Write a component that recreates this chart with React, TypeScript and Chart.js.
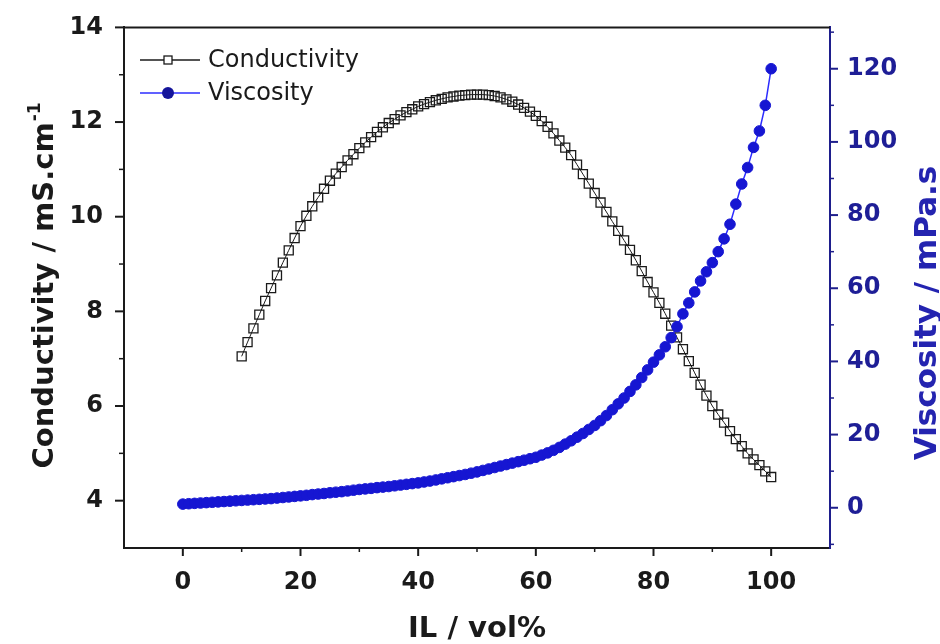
import React, { useEffect, useRef } from 'react';
import { Chart, registerables } from 'chart.js';

Chart.register(...registerables);

// IL content (vol%)
const ilVol = [
  0, 1, 2, 3, 4, 5, 6, 7, 8, 9,
  10, 11, 12, 13, 14, 15, 16, 17, 18, 19,
  20, 21, 22, 23, 24, 25, 26, 27, 28, 29,
  30, 31, 32, 33, 34, 35, 36, 37, 38, 39,
  40, 41, 42, 43, 44, 45, 46, 47, 48, 49,
  50, 51, 52, 53, 54, 55, 56, 57, 58, 59,
  60, 61, 62, 63, 64, 65, 66, 67, 68, 69,
  70, 71, 72, 73, 74, 75, 76, 77, 78, 79,
  80, 81, 82, 83, 84, 85, 86, 87, 88, 89,
  90, 91, 92, 93, 94, 95, 96, 97, 98, 99,
  100,
];

// Conductivity (mS/cm), measured from 10 vol%
const conductivity: (number | null)[] = [
  null, null, null, null, null, null, null, null, null, null,
  7.05, 7.35, 7.64, 7.93, 8.22, 8.49, 8.76, 9.03, 9.29, 9.55,
  9.8, 10.02, 10.22, 10.41, 10.59, 10.76, 10.91, 11.05, 11.19, 11.32,
  11.45, 11.57, 11.68, 11.79, 11.89, 11.98, 12.06, 12.14, 12.21, 12.27,
  12.33, 12.38, 12.42, 12.46, 12.49, 12.52, 12.54, 12.56, 12.57, 12.58,
  12.58, 12.58, 12.57, 12.55, 12.52, 12.48, 12.43, 12.37, 12.3, 12.22,
  12.13, 12.02, 11.9, 11.76, 11.61, 11.46, 11.3, 11.1, 10.9, 10.7,
  10.5, 10.3, 10.1, 9.9, 9.7, 9.5, 9.3, 9.08, 8.85, 8.62,
  8.4, 8.18, 7.95, 7.7, 7.45, 7.2, 6.95, 6.7, 6.45, 6.22,
  6.0, 5.82, 5.65, 5.47, 5.3, 5.15, 5.0, 4.87, 4.75, 4.62,
  4.5,
];

// Viscosity (mPa.s)
const viscosity = [
  1.0, 1.1, 1.2, 1.3, 1.4, 1.5, 1.6, 1.7, 1.8, 1.9,
  2.0, 2.1, 2.2, 2.3, 2.4, 2.5, 2.65, 2.8, 2.95, 3.1,
  3.25, 3.4, 3.6, 3.75, 3.9, 4.1, 4.25, 4.4, 4.6, 4.8,
  5.0, 5.15, 5.3, 5.5, 5.65, 5.8, 6.0, 6.2, 6.4, 6.6,
  6.8, 7.05, 7.3, 7.6, 7.9, 8.2, 8.5, 8.8, 9.1, 9.45,
  9.8, 10.2, 10.6, 11.0, 11.4, 11.8, 12.2, 12.6, 13.0, 13.4,
  13.8, 14.4, 15.0, 15.7, 16.5, 17.4, 18.3, 19.3, 20.3, 21.4,
  22.5, 23.8, 25.2, 26.8, 28.4, 30.0, 31.8, 33.6, 35.6, 37.7,
  39.8, 41.8, 44.0, 46.5, 49.5, 53.0, 56.0, 59.0, 62.0, 64.5,
  67.0, 70.0, 73.5, 77.5, 83.0, 88.5, 93.0, 98.5, 103.0, 110.0,
  120.0,
];

// Tick values
const xMajorTicks = [0, 20, 40, 60, 80, 100];
const xMinorTicks = [10, 30, 50, 70, 90];
const condMajorTicks = [4, 6, 8, 10, 12, 14];
const condMinorTicks = [5, 7, 9, 11, 13];
const viscMajorTicks = [0, 20, 40, 60, 80, 100, 120];
const viscMinorTicks = [-10, 10, 30, 50, 70, 90, 110, 130];

const BLACK = '#1a1a1a';
const NAVY = '#1e1e8c';
const BLUE_PT = '#1616d2';
const BLUE_LINE = '#2c2cff';
const FONT = 'DejaVu Sans';

const decorPlugin = {
  id: 'decor',
  afterDraw(chart: any) {
    const { ctx, chartArea: a, scales } = chart;
    ctx.save();
    // top frame line
    ctx.strokeStyle = BLACK;
    ctx.lineWidth = 2;
    ctx.beginPath();
    ctx.moveTo(a.left - 1, a.top);
    ctx.lineTo(a.right, a.top);
    ctx.stroke();

    // ticks
    const tickX = (vals: number[], len: number) => {
      vals.forEach((v) => {
        const p = scales.x.getPixelForValue(v);
        ctx.beginPath();
        ctx.moveTo(p, a.bottom);
        ctx.lineTo(p, a.bottom + len);
        ctx.stroke();
      });
    };
    const tickY = (scale: any, vals: number[], len: number, x0: number, dir: number) => {
      vals.forEach((v) => {
        const p = scale.getPixelForValue(v);
        ctx.beginPath();
        ctx.moveTo(x0, p);
        ctx.lineTo(x0 + dir * len, p);
        ctx.stroke();
      });
    };
    ctx.strokeStyle = BLACK;
    ctx.lineWidth = 2;
    tickX(xMajorTicks, 8);
    tickY(scales.y, condMajorTicks, 9, a.left, -1);
    ctx.lineWidth = 1.5;
    tickX(xMinorTicks, 4);
    tickY(scales.y, condMinorTicks, 5, a.left, -1);
    ctx.strokeStyle = NAVY;
    ctx.lineWidth = 2;
    tickY(scales.y2, viscMajorTicks, 8, a.right, 1);
    ctx.lineWidth = 1.5;
    tickY(scales.y2, viscMinorTicks, 4, a.right, 1);

    // legend
    const lx0 = 140, lx1 = 200, mx = 168;
    const r1 = 60, r2 = 93;
    ctx.strokeStyle = BLACK;
    ctx.lineWidth = 1.3;
    ctx.beginPath();
    ctx.moveTo(lx0, r1);
    ctx.lineTo(lx1, r1);
    ctx.stroke();
    ctx.fillStyle = '#ffffff';
    ctx.fillRect(mx - 4, r1 - 4, 8, 8);
    ctx.strokeRect(mx - 4, r1 - 4, 8, 8);
    ctx.strokeStyle = BLUE_LINE;
    ctx.lineWidth = 1.5;
    ctx.beginPath();
    ctx.moveTo(lx0, r2);
    ctx.lineTo(lx1, r2);
    ctx.stroke();
    ctx.fillStyle = '#14149a';
    ctx.beginPath();
    ctx.arc(mx, r2, 6, 0, Math.PI * 2);
    ctx.fill();
    ctx.fillStyle = BLACK;
    ctx.font = `24px "${FONT}"`;
    ctx.textAlign = 'left';
    ctx.textBaseline = 'middle';
    ctx.fillText('Conductivity', 208, r1 + 1);
    ctx.fillText('Viscosity', 208, r2 + 1);

    // x title
    ctx.font = `bold 29px "${FONT}"`;
    ctx.textAlign = 'center';
    ctx.textBaseline = 'alphabetic';
    ctx.fillStyle = BLACK;
    ctx.fillText('IL / vol%', (a.left + a.right) / 2, 637);

    // left title (rotated, reading upward)
    ctx.save();
    ctx.translate(53, 286);
    ctx.rotate(-Math.PI / 2);
    const mainT = 'Conductivity / mS.cm';
    const supT = '-1';
    ctx.font = `bold 29px "${FONT}"`;
    const wMain = ctx.measureText(mainT).width;
    ctx.font = `bold 17px "${FONT}"`;
    const wSup = ctx.measureText(supT).width;
    const start = -(wMain + wSup) / 2;
    ctx.textAlign = 'left';
    ctx.font = `bold 29px "${FONT}"`;
    ctx.fillText(mainT, start, 0);
    ctx.font = `bold 17px "${FONT}"`;
    ctx.fillText(supT, start + wMain + 1, -13);
    ctx.restore();

    // right title
    ctx.save();
    ctx.translate(936, 313);
    ctx.rotate(-Math.PI / 2);
    ctx.font = `bold 31px "${FONT}"`;
    ctx.textAlign = 'center';
    ctx.fillStyle = '#2424b0';
    ctx.fillText('Viscosity / mPa.s', 0, 0);
    ctx.restore();

    ctx.restore();
  },
};

export default function App() {
  const canvasRef = useRef<HTMLCanvasElement | null>(null);

  useEffect(() => {
    document.body.style.margin = '0';
    const canvas = canvasRef.current;
    if (!canvas) return;

    const condData = ilVol
      .map((x, i) => ({ x, y: conductivity[i] }))
      .filter((p) => p.y !== null);
    const viscData = ilVol.map((x, i) => ({ x, y: viscosity[i] }));

    const tickFont = { family: FONT, size: 24, weight: 'bold' as const };

    const chart = new Chart(canvas, {
      type: 'line',
      data: {
        datasets: [
          {
            label: 'Viscosity',
            data: viscData,
            yAxisID: 'y2',
            borderColor: BLUE_LINE,
            borderWidth: 1.5,
            backgroundColor: BLUE_PT,
            pointBackgroundColor: BLUE_PT,
            pointBorderColor: BLUE_PT,
            pointRadius: 5.3,
            pointBorderWidth: 1,
            tension: 0,
            order: 0,
          },
          {
            label: 'Conductivity',
            data: condData,
            yAxisID: 'y',
            borderColor: BLACK,
            borderWidth: 1,
            backgroundColor: 'rgba(0,0,0,0)',
            pointStyle: 'rect',
            pointBackgroundColor: 'rgba(0,0,0,0)',
            pointBorderColor: BLACK,
            pointBorderWidth: 1.3,
            pointRadius: 6.4,
            tension: 0,
            order: 1,
          },
        ],
      },
      options: {
        responsive: false,
        animation: false,
        events: [],
        layout: { padding: { top: 27, left: 0, right: 0, bottom: 0 } },
        plugins: {
          legend: { display: false },
          tooltip: { enabled: false },
          title: { display: false },
        },
        scales: {
          x: {
            type: 'linear',
            position: 'bottom',
            min: -10,
            max: 110,
            grid: { display: false },
            border: { display: true, color: BLACK, width: 2 },
            ticks: { font: tickFont, color: BLACK, padding: 12, maxRotation: 0 },
            afterBuildTicks: (axis: any) => {
              axis.ticks = xMajorTicks.map((v) => ({ value: v }));
            },
            afterFit: (axis: any) => {
              axis.height = 96;
            },
          },
          y: {
            type: 'linear',
            position: 'left',
            min: 3,
            max: 14,
            grid: { display: false },
            border: { display: true, color: BLACK, width: 2 },
            ticks: { font: tickFont, color: BLACK, padding: 13 },
            afterBuildTicks: (axis: any) => {
              axis.ticks = condMajorTicks.map((v) => ({ value: v }));
            },
            afterFit: (axis: any) => {
              axis.width = 124;
            },
          },
          y2: {
            type: 'linear',
            position: 'right',
            min: -11,
            max: 131.3,
            grid: { display: false },
            border: { display: true, color: NAVY, width: 2 },
            ticks: { font: tickFont, color: '#1e1e96', padding: 9 },
            afterBuildTicks: (axis: any) => {
              axis.ticks = viscMajorTicks.map((v) => ({ value: v }));
            },
            afterFit: (axis: any) => {
              axis.width = 110;
            },
          },
        },
      },
      plugins: [decorPlugin],
    } as any);

    return () => {
      chart.destroy();
    };
  }, []);

  return (
    <div style={{ width: 940, height: 644, background: '#ffffff' }}>
      <canvas ref={canvasRef} width={940} height={644} style={{ display: 'block' }} />
    </div>
  );
}
